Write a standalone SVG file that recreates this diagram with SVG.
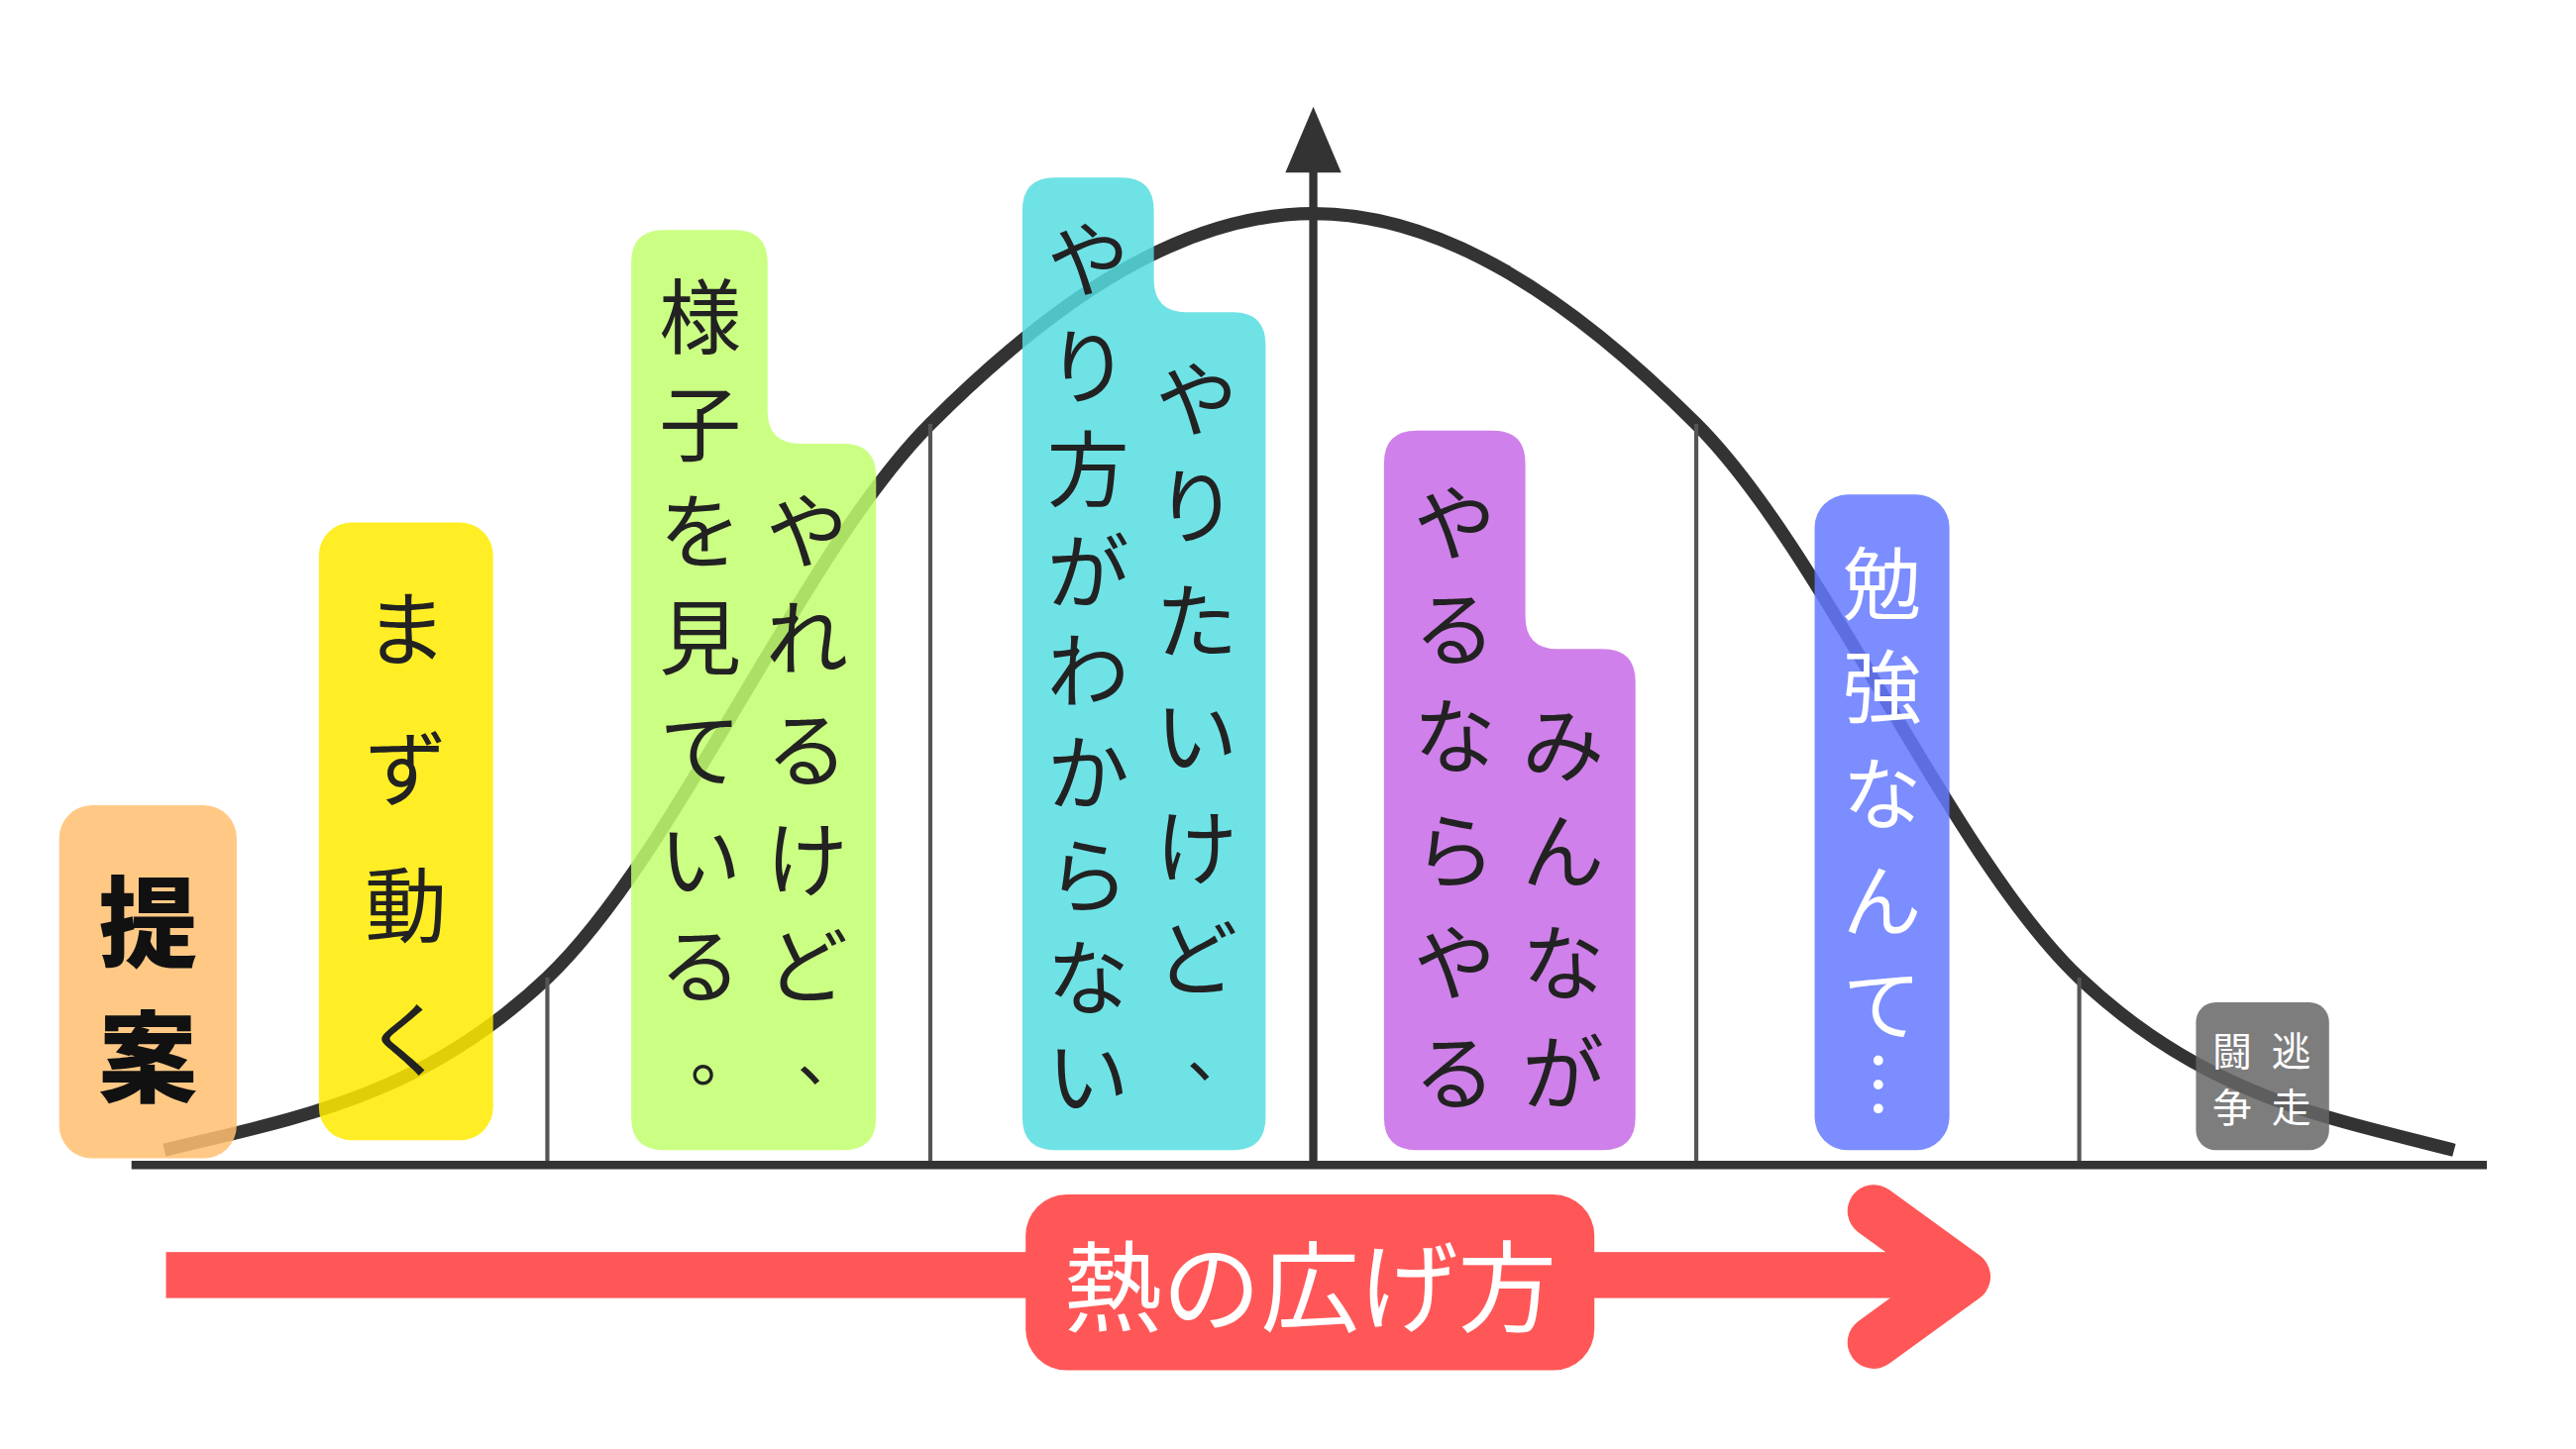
<svg xmlns="http://www.w3.org/2000/svg" width="2600" height="1463" viewBox="0 0 2600 1463">
<style>
.t{font-family:"Noto Sans CJK JP","Noto Sans",sans-serif;text-anchor:middle;dominant-baseline:central}
.k{fill:#222;font-size:50px}
.p{fill:#222;font-size:40px}
.w{fill:#fff}
.tick{stroke:#555;stroke-width:2.5}
.box{opacity:0.85}
</style>
<rect width="2600" height="1463" fill="#fff"/>
<g transform="scale(1.659)">
<g id="connectors">
<path d="M100,700 C177,681 255,669 333,595 C411,521 488,336 566,258 C644,180 721,130 799,130 C877,130 954,180 1032,258 C1110,336 1187,521 1265,595 C1343,669 1421,681 1493,700" fill="none" stroke="#333" stroke-width="8"/>
<line class="tick" x1="333" y1="595" x2="333" y2="709"/>
<line class="tick" x1="566" y1="258" x2="566" y2="709"/>
<line class="tick" x1="1032" y1="258" x2="1032" y2="709"/>
<line class="tick" x1="1265" y1="595" x2="1265" y2="709"/>
<line x1="80" y1="709" x2="1513" y2="709" stroke="#333" stroke-width="5"/>
<line x1="799" y1="709" x2="799" y2="100" stroke="#333" stroke-width="5"/>
<polygon points="799,65 782,105 816,105" fill="#333"/>
</g>
<g id="n1"><rect class="box" x="36" y="490" width="108" height="215" rx="20" fill="#FFC070"/>
<text class="t" x="90" y="558" font-size="60" font-weight="900" fill="#111">提</text><text class="t" x="90" y="640" font-size="60" font-weight="900" fill="#111">案</text></g>
<g id="n2"><rect class="box" x="194" y="318" width="106" height="376" rx="20" fill="#FFEB00"/>
<text class="t k" font-size="55"><tspan x="247" y="380">ま</tspan><tspan x="247" y="465">ず</tspan><tspan x="247" y="548">動</tspan><tspan x="247" y="630">く</tspan></text></g>
<g id="n3"><path class="box" d="M404,140 H447 Q467,140 467,160 V250 Q467,270 487,270 H513 Q533,270 533,290 V680 Q533,700 513,700 H404 Q384,700 384,680 V160 Q384,140 404,140 Z" fill="#C2FF6E"/>
<text class="t k"><tspan x="426" y="190">様</tspan><tspan x="426" y="255">子</tspan><tspan x="426" y="320">を</tspan><tspan x="426" y="385">見</tspan><tspan x="426" y="453">て</tspan><tspan x="426" y="520">い</tspan><tspan x="426" y="585">る</tspan></text>
<text class="t p" x="440" y="640">。</text>
<text class="t k"><tspan x="491" y="320">や</tspan><tspan x="491" y="385">れ</tspan><tspan x="491" y="453">る</tspan><tspan x="491" y="520">け</tspan><tspan x="491" y="585">ど</tspan></text>
<text class="t p" x="505" y="640">、</text></g>
<g id="n4"><path class="box" d="M642,108 H682 Q702,108 702,128 V170 Q702,190 722,190 H750 Q770,190 770,210 V680 Q770,700 750,700 H642 Q622,700 622,680 V128 Q622,108 642,108 Z" fill="#56DDE2"/>
<text class="t k"><tspan x="662" y="155">や</tspan><tspan x="662" y="220">り</tspan><tspan x="662" y="283">方</tspan><tspan x="662" y="345">が</tspan><tspan x="662" y="405">わ</tspan><tspan x="662" y="467">か</tspan><tspan x="662" y="530">ら</tspan><tspan x="662" y="592">な</tspan><tspan x="662" y="652">い</tspan></text>
<text class="t k"><tspan x="728" y="240">や</tspan><tspan x="728" y="305">り</tspan><tspan x="728" y="375">た</tspan><tspan x="728" y="445">い</tspan><tspan x="728" y="513">け</tspan><tspan x="728" y="580">ど</tspan></text>
<text class="t p" x="742" y="638">、</text></g>
<g id="n5"><path class="box" d="M862,262 H908 Q928,262 928,282 V375 Q928,395 948,395 H975 Q995,395 995,415 V680 Q995,700 975,700 H862 Q842,700 842,680 V282 Q842,262 862,262 Z" fill="#C76AE6"/>
<text class="t k"><tspan x="885" y="315">や</tspan><tspan x="885" y="380">る</tspan><tspan x="885" y="445">な</tspan><tspan x="885" y="515">ら</tspan><tspan x="885" y="583">や</tspan><tspan x="885" y="650">る</tspan></text>
<text class="t k"><tspan x="951" y="450">み</tspan><tspan x="951" y="515">ん</tspan><tspan x="951" y="583">な</tspan><tspan x="951" y="650">が</tspan></text></g>
<g id="n6"><rect class="box" x="1104" y="301" width="82" height="399" rx="20" fill="#6479FF"/>
<text class="t w" font-size="48"><tspan x="1145" y="352">勉</tspan><tspan x="1145" y="415">強</tspan><tspan x="1145" y="480">な</tspan><tspan x="1145" y="545">ん</tspan><tspan x="1145" y="608">て</tspan></text>
<text class="t w" font-size="44" transform="translate(1145,660) rotate(90)" x="0" y="0">…</text></g>
<g id="n7"><rect class="box" x="1336" y="610" width="81" height="90" rx="12" fill="#666"/>
<text class="t w" font-size="24"><tspan x="1358" y="638">闘</tspan><tspan x="1394" y="638">逃</tspan><tspan x="1358" y="672">争</tspan><tspan x="1394" y="672">走</tspan></text></g>
<g id="arrow">
<rect x="101" y="762" width="1084" height="28" fill="#FF5757"/>
<polyline points="1140,737 1195,777 1140,817" fill="none" stroke="#FF5757" stroke-width="32" stroke-linecap="round" stroke-linejoin="round"/>
<rect x="624" y="727" width="346" height="107" rx="25" fill="#FF5757"/>
<text class="t w" x="797" y="780" font-size="60">熱の広げ方</text></g>
</g>
</svg>
